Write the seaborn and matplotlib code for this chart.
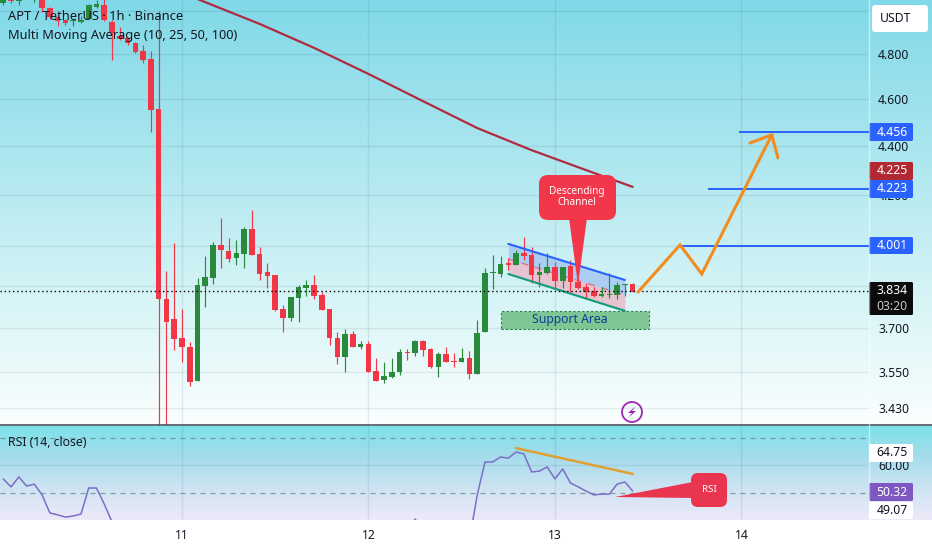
import numpy             as np
import pandas            as pd
import matplotlib.pyplot as plt
import seaborn           as sns
from matplotlib.colors   import LinearSegmentedColormap
from matplotlib.patches  import FancyBboxPatch, Polygon, Rectangle, Circle

# Hourly candles, hour 0 is the start of day 11
hours  = list(range(-23, 59))
opens  = [5.038, 5.060, 5.048, 5.090, 5.060, 5.070, 5.014, 4.972, 4.957, 4.953, 4.948, 4.962, 5.019, 5.029, 4.948, 4.883, 4.874, 4.850, 4.814, 4.777, 4.556, 3.804, 3.732,
          3.666, 3.634, 3.519, 3.851, 3.880, 4.004, 3.981, 3.955, 3.970, 4.065, 3.970, 3.903, 3.891, 3.768, 3.736, 3.807, 3.844, 3.855, 3.818, 3.768, 3.666, 3.600, 3.679, 3.634, 3.645,
          3.553, 3.522, 3.532, 3.549, 3.617, 3.614, 3.655, 3.627, 3.566, 3.610, 3.586, 3.583, 3.597, 3.542, 3.686, 3.899, 3.895, 3.936, 3.929, 3.974, 3.966, 3.891, 3.899,
          3.921, 3.869, 3.925, 3.866, 3.847, 3.833, 3.815, 3.818, 3.818, 3.855, 3.858]
closes = [5.062, 5.048, 5.070, 5.080, 5.080, 5.014, 4.972, 4.953, 4.943, 4.957, 4.957, 5.029, 5.033, 4.957, 4.897, 4.869, 4.850, 4.809, 4.773, 4.551, 3.804, 3.722, 3.662,
          3.634, 3.516, 3.855, 3.884, 4.004, 3.985, 3.951, 3.974, 4.065, 3.966, 3.895, 3.888, 3.764, 3.736, 3.811, 3.847, 3.855, 3.815, 3.764, 3.666, 3.600, 3.679, 3.634, 3.645, 3.549,
          3.519, 3.536, 3.549, 3.617, 3.614, 3.655, 3.624, 3.566, 3.610, 3.583, 3.583, 3.597, 3.542, 3.683, 3.899, 3.903, 3.932, 3.929, 3.974, 3.962, 3.891, 3.903, 3.921,
          3.869, 3.921, 3.866, 3.844, 3.829, 3.815, 3.822, 3.822, 3.855, 3.858, 3.829]
highs  = [5.070, 5.070, 5.080, 5.100, 5.090, 5.080, 5.020, 4.975, 4.960, 4.962, 4.975, 5.033, 5.053, 5.060, 4.957, 4.925, 4.878, 4.855, 4.841, 4.814, 5.000, 3.906, 4.011,
          3.768, 3.652, 3.881, 3.962, 4.015, 4.108, 4.031, 4.023, 4.073, 4.139, 3.996, 3.936, 3.891, 3.782, 3.811, 3.855, 3.873, 3.891, 3.829, 3.768, 3.686, 3.697, 3.690, 3.655, 3.655,
          3.597, 3.583, 3.597, 3.627, 3.627, 3.659, 3.659, 3.631, 3.617, 3.634, 3.614, 3.631, 3.621, 3.729, 3.917, 3.966, 3.962, 3.955, 3.985, 4.034, 3.996, 3.936, 3.974,
          3.940, 3.921, 3.947, 3.899, 3.862, 3.847, 3.847, 3.899, 3.866, 3.858, 3.862]
lows   = [5.029, 5.038, 5.030, 5.070, 5.044, 4.995, 4.962, 4.929, 4.934, 4.929, 4.943, 4.962, 5.014, 4.953, 4.773, 4.864, 4.841, 4.805, 4.759, 4.457, 3.300, 3.300, 3.624,
          3.583, 3.502, 3.519, 3.775, 3.858, 3.917, 3.940, 3.929, 3.917, 3.966, 3.873, 3.844, 3.761, 3.686, 3.725, 3.722, 3.815, 3.804, 3.764, 3.641, 3.576, 3.549, 3.634, 3.627, 3.549,
          3.519, 3.512, 3.529, 3.539, 3.590, 3.603, 3.603, 3.563, 3.532, 3.583, 3.566, 3.583, 3.526, 3.542, 3.686, 3.840, 3.884, 3.910, 3.929, 3.947, 3.862, 3.847, 3.895,
          3.844, 3.844, 3.829, 3.840, 3.807, 3.811, 3.811, 3.807, 3.804, 3.815, 3.829]

# Moving average (only the long one is visible)
ma_hours  = [2, 10, 17, 24, 31, 38, 45, 52, 58]
ma_values = [5.057, 4.939, 4.828, 4.710, 4.590, 4.474, 4.381, 4.299, 4.231]

# RSI, same hours as the candles, the flat part sits under the panel edge
rsi_values = [55.05, 52.2, 55.8, 52.5, 53.2, 49.3, 42.8, 42.1, 41.3, 41.7, 42.4, 51.8, 51.8, 46.0, 39.5,
              33, 30, 28, 26, 22, 12, 11, 12, 12, 11, 28, 30, 36, 35.5, 34.5, 35, 38, 36, 33, 32.5,
              28, 26, 29, 32, 33, 32.5, 30, 26, 24, 28, 27, 28, 25, 24, 25, 26, 31, 31, 40.6, 37,
              32, 34, 33, 33, 34, 33, 49.3, 61.2, 61.2, 63.0, 62.6, 64.8, 64.1, 57.6, 57.9, 59.4,
              55.1, 58.7, 53.6, 52.2, 50.7, 49.3, 49.6, 49.6, 53.2, 54.0, 50.7]

# Drawings on the chart
levels       = [4.456, 4.223, 4.001]
level_starts = [71.7, 67.7, 63.8]
last_price   = 3.834
path_hours   = [58.7, 64.1, 66.9, 75.9]
path_prices  = [3.829, 4.004, 3.895, 4.445]
head_hours   = [73.1, 75.9, 76.7]
head_prices  = [4.411, 4.445, 4.349]
chan_hours   = [42, 57]
chan_top     = [4.008, 3.873]
chan_mid     = [3.951, 3.818]
chan_bottom  = [3.895, 3.761]
rsi_trend_hours  = [43, 58]
rsi_trend_values = [66.2, 56.9]

# 5.000 and 4.000 sit fully under the USDT box and the 4.001 tag, so they stay unlabelled
price_ticks  = [5.0, 4.8, 4.6, 4.4, 4.2, 4.0, 3.85, 3.7, 3.55, 3.43]
price_labels = ['', '4.800', '4.600', '4.400', '4.200', '', '3.850', '3.700', '3.550', '3.430']
day_ticks    = [0, 24, 48, 72]
day_labels   = ['11', '12', '13', '14']

RED, GREEN, BLUE, ORANGE = '#f23645', '#2a8a3c', '#2962ff', '#f28c1e'
INK = '#131722'
FS  = 8.8

sns.set_theme(style = 'white')
plt.rcParams['font.family'] = ['Noto Sans', 'DejaVu Sans']

candles = pd.DataFrame({'hour': hours, 'open': opens, 'close': closes, 'high': highs, 'low': lows})
candles['color'] = np.where(candles.close >= candles.open, GREEN, RED)

fig = plt.figure(figsize = (9.32, 5.5), dpi = 100, facecolor = 'white')

# Pixel-sized backdrop and overlay, both cover the whole figure
bg = fig.add_axes([0, 0, 1, 1], zorder = 0)
main_cmap = LinearSegmentedColormap.from_list('main', ['#80d9e8', '#a8e5ee', '#d2f3f6', '#fbfefe'])
rsi_cmap  = LinearSegmentedColormap.from_list('rsi', ['#7ce2e8', '#a6dcec', '#cfe4f2', '#eee9f9'])
ramp = np.linspace(0, 1, 256)[:, None]
bg.imshow(ramp, cmap = main_cmap, extent = (0, 932, 424.5, 0), aspect = 'auto')
bg.imshow(ramp, cmap = rsi_cmap,  extent = (0, 932, 520, 426), aspect = 'auto')
bg.set_xlim(0, 932)
bg.set_ylim(550, 0)
bg.axis('off')

ax  = fig.add_axes([0, 1 - 424.5 / 550, 869 / 932, 424.5 / 550], zorder = 1)
rsi = fig.add_axes([0, 1 - 520 / 550, 869 / 932, 94 / 550], zorder = 1)

# Price panel
ax.patch.set_visible(False)
ax.set_yscale('log')
ax.set_xlim(-23.42, 88.42)
ax.set_ylim(3.3763, 5.0525)
ax.set_yticks(price_ticks, price_labels)
ax.minorticks_off()
ax.set_xticks(day_ticks, [])
ax.yaxis.tick_right()
ax.tick_params(axis = 'both', length = 0)
ax.tick_params(axis = 'y', pad = 6.5, labelsize = FS, labelcolor = INK)
ax.grid(True, color = '#103a50', alpha = 0.09, lw = 1)
ax.set_axisbelow(True)

ax.fill_between(chan_hours, chan_mid, chan_top, color = '#9fc2f2', alpha = 0.75, lw = 0, zorder = 1)
ax.fill_between(chan_hours, chan_bottom, chan_mid, color = '#eeb4c4', alpha = 0.75, lw = 0, zorder = 1)
ax.plot(chan_hours, chan_mid, color = RED, lw = 1, ls = (0, (5, 5)), alpha = 0.6, zorder = 1.5)

ax.vlines(candles.hour, candles.low, candles.high, colors = candles.color, lw = 0.85, zorder = 2)
ax.bar(candles.hour, (candles.close - candles.open).abs(), bottom = candles[['open', 'close']].min(axis = 1),
       width = 0.72, color = candles.color, lw = 0, zorder = 3)

sns.lineplot(x = ma_hours, y = ma_values, ax = ax, color = '#b12a40', lw = 1.6, zorder = 4, errorbar = None)

ax.plot(chan_hours, chan_top, color = BLUE, lw = 1.5, zorder = 4)
ax.plot(chan_hours, chan_bottom, color = '#0f9b7c', lw = 1.5, zorder = 4)
ax.add_patch(Rectangle((41, 3.697), 19.1, 0.064, facecolor = '#80c695', edgecolor = '#2a7d4a',
                       lw = 0.8, ls = (0, (2, 2)), zorder = 2))
ax.text(49.9, 3.729, 'Support Area', color = '#0b3f94', fontsize = FS, fontweight = 'medium',
        ha = 'center', va = 'center', zorder = 5)

ax.hlines(levels, level_starts, 88.42, color = BLUE, lw = 1.4, zorder = 4)
ax.axhline(last_price, color = 'black', lw = 1, ls = (0, (1, 2)), zorder = 4)
ax.plot(path_hours, path_prices, color = ORANGE, lw = 2.2, solid_joinstyle = 'miter', zorder = 5)
ax.plot(head_hours, head_prices, color = ORANGE, lw = 2.2, zorder = 5)

# RSI panel
rsi.patch.set_visible(False)
rsi.set_xlim(-23.42, 88.42)
rsi.set_ylim(40.25, 74.19)
rsi.set_yticks([60], ['60.00'])
rsi.set_xticks(day_ticks, day_labels)
rsi.yaxis.tick_right()
rsi.tick_params(axis = 'both', length = 0, labelsize = FS, labelcolor = INK)
rsi.tick_params(axis = 'y', pad = 6.5)
rsi.tick_params(axis = 'x', pad = 6.5)
rsi.grid(True, color = '#103a50', alpha = 0.09, lw = 1)
rsi.set_axisbelow(True)
for level in [70, 50]:
    rsi.axhline(level, color = '#5f7f8f', lw = 0.9, ls = (0, (4, 4)), alpha = 0.7)
sns.lineplot(x = hours, y = rsi_values, ax = rsi, color = '#7b6ec6', lw = 1.1, errorbar = None)
rsi.plot(rsi_trend_hours, rsi_trend_values, color = '#e0a030', lw = 1.8)

sns.despine(ax = ax, left = True, bottom = True, right = True, top = True)
sns.despine(ax = rsi, left = True, bottom = True, right = True, top = True)

# Overlay in figure pixels: legend text, price tags, callouts
top = fig.add_axes([0, 0, 1, 1], zorder = 3)
top.set_xlim(0, 932)
top.set_ylim(550, 0)
top.axis('off')

def round_box(x0, y0, x1, y1, color, radius = 2):
    top.add_patch(FancyBboxPatch((x0, y0), x1 - x0, y1 - y0, boxstyle = f'round,pad=0,rounding_size={radius}',
                                 facecolor = color, edgecolor = 'none'))

def price_tag(y0, y1, label, color, text_color = 'white'):
    round_box(869, y0, 913, y1, color, 1.5)
    top.text(892, (y0 + y1) / 2, label, color = text_color, fontsize = FS, ha = 'center', va = 'center')

top.plot([0, 932], [425, 425], color = '#37474f', lw = 1.1)
top.plot([869, 869], [0, 520], color = 'white', lw = 1, alpha = 0.5)

top.text(8, 17, 'APT / TetherUS · 1h · Binance', color = INK, fontsize = 9.3, fontweight = 'medium', va = 'center')
top.text(8, 35, 'Multi Moving Average (10, 25, 50, 100)', color = INK, fontsize = 9.2, va = 'center')
top.text(8, 443, 'RSI (14, close)', color = INK, fontsize = FS, va = 'center')

round_box(872, 5, 928, 32, 'white', 3)
top.text(896, 18, 'USDT', color = INK, fontsize = FS, ha = 'center', va = 'center')

price_tag(123, 141, '4.456', BLUE)
price_tag(162, 180, '4.225', '#b22833')
price_tag(180, 198, '4.223', BLUE)
price_tag(237, 254, '4.001', BLUE)
price_tag(444, 462, '64.75', 'white', INK)
price_tag(483, 501, '50.32', '#7e57c2')
price_tag(502, 519, '49.07', 'white', INK)
round_box(869, 282, 913, 315, '#0b0b0b', 1.5)
top.text(892, 291, '3.834', color = 'white', fontsize = FS, ha = 'center', va = 'center')
top.text(892, 307, '03:20', color = '#c8c8c8', fontsize = FS, ha = 'center', va = 'center')

# Descending channel callout
round_box(539, 175, 616, 220, '#f2374a', 9)
top.add_patch(Polygon([(569, 218), (587, 218), (578, 285)], facecolor = '#f2374a', edgecolor = 'none'))
top.text(577, 197, 'Descending\nChannel', color = 'white', fontsize = 7.2, fontweight = 'bold',
         ha = 'center', va = 'center', linespacing = 1.05)

# RSI callout
round_box(691, 473, 727, 507, '#ea3550', 7)
top.add_patch(Polygon([(693, 482), (693, 498), (615, 497)], facecolor = '#ea3550', edgecolor = 'none'))
top.text(709, 490, 'RSI', color = 'white', fontsize = 7, fontweight = 'bold', ha = 'center', va = 'center')

# Alert badge
top.add_patch(Circle((632, 412), 10, facecolor = 'none', edgecolor = '#9c27b0', lw = 1.3))
top.add_patch(Polygon([(636, 406), (628, 413), (632, 413), (628, 418), (636, 411), (632, 411)],
                      facecolor = '#9c27b0', edgecolor = 'none'))

plt.savefig('out.png', dpi = 100)
